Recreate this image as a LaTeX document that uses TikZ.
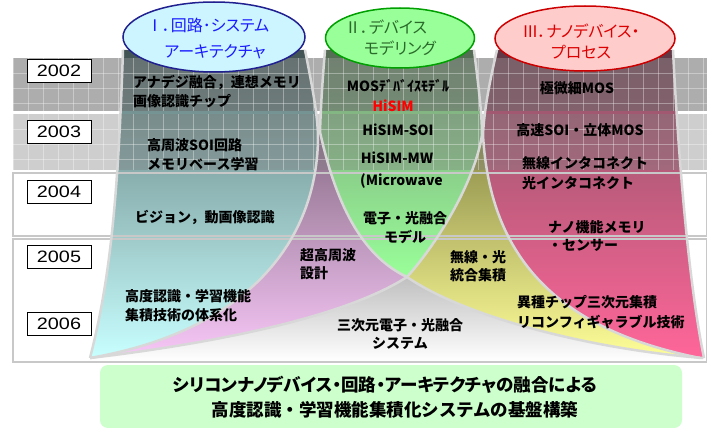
\documentclass[tikz,border=0pt]{standalone}
\usepackage{fontspec}
\usepackage{graphicx}
\newfontfamily\jp{Noto Sans CJK JP}[RawFeature=+palt]
\newfontfamily\jpn{Noto Sans CJK JP}
\newfontfamily\yearfont{Liberation Sans}
\definecolor{edgegray}{HTML}{D8D8D8}
\definecolor{tealtop}{HTML}{607878}
\definecolor{tealmid}{HTML}{9CC4C4}
\definecolor{tealbot}{HTML}{C8FFFF}
\definecolor{purtop}{HTML}{866A84}
\definecolor{purbot}{HTML}{F8C8F8}
\definecolor{greentop}{HTML}{7A9A7A}
\definecolor{greenbot}{HTML}{99FF99}
\definecolor{yeltop}{HTML}{8A8A48}
\definecolor{yelbot}{HTML}{FFFF99}
\definecolor{pinktop}{HTML}{8A5466}
\definecolor{pinkmid}{HTML}{D04A7A}
\definecolor{pinkbot}{HTML}{FF6699}
\definecolor{graytop}{HTML}{C0C0C0}
\definecolor{ellAfill}{HTML}{CCF5FF}
\definecolor{ellAdraw}{HTML}{202090}
\definecolor{ellAtext}{HTML}{1A1AFF}
\definecolor{ellBfill}{HTML}{99FF99}
\definecolor{ellBdraw}{HTML}{00A000}
\definecolor{ellBtext}{HTML}{2A6A2A}
\definecolor{ellCfill}{HTML}{FFCCCC}
\definecolor{ellCdraw}{HTML}{CC0000}
\definecolor{ellCtext}{HTML}{DD0000}
\definecolor{boxgreen}{HTML}{CCFFCC}
\definecolor{bandline}{HTML}{C8C8C8}
\definecolor{hisimred}{HTML}{FF0000}
\definecolor{bandA}{HTML}{6A6A6A}
\definecolor{bandB}{HTML}{808080}
\tikzset{
  lbl/.style={font={\jpn\bfseries\fontsize{14pt}{17pt}\selectfont}, inner sep=0pt, text=black},
  lblw/.style={lbl, anchor=west},
  elltext/.style={font={\jp\fontsize{16pt}{19pt}\selectfont}, inner sep=0pt},
  goaltext/.style={font={\jp\bfseries\fontsize{17.5pt}{20pt}\selectfont}, inner sep=0pt, text=black},
  goaltextn/.style={font={\jpn\bfseries\fontsize{17.5pt}{20pt}\selectfont}, inner sep=0pt, text=black},
  yearbox/.style={draw=black, line width=0.8pt, fill=white, minimum width=64pt, minimum height=23pt, inner sep=0pt,
    font={\yearfont\fontsize{16.5pt}{18pt}\selectfont}},
  edgeline/.style={draw=edgegray, line width=2.5pt},
  gridline/.style={draw=white, draw opacity=0.35, line width=0.7pt},
  bandframe/.style={draw=bandline, line width=1.5pt},
  ellipsebox/.style={ellipse, line width=1.5pt, inner sep=0pt},
  topstrip/.style={fill=black, fill opacity=0.3}
}
\usetikzlibrary{shapes.geometric}
\begin{document}
\begin{tikzpicture}[x=1pt,y=-1pt]
\useasboundingbox (0,0) rectangle (707,428);
\fill[white] (0,0) rectangle (707,428);

% ---- column fills ----
% I (teal)
\shade[top color=tealtop, middle color=tealmid, bottom color=tealbot]
  (123,50) -- (305,50) .. controls (315,100) and (318,120) .. (318,140)
  .. controls (316,240) and (250,330) .. (90,358)
  .. controls (110,280) and (118,200) .. (123,50) -- cycle;
% purple overlap I/II
\shade[top color=purtop, bottom color=purbot]
  (319,128) -- (318,140) .. controls (316,240) and (250,330) .. (90,358)
  .. controls (200,345) and (340,320) .. (407,277)
  .. controls (360,255) and (335,200) .. (320,132) -- cycle;
% II (green)
\shade[top color=greentop, bottom color=greenbot]
  (325,50) -- (474,50) .. controls (479,90) and (482,115) .. (482,135)
  .. controls (475,180) and (440,240) .. (407,277)
  .. controls (360,255) and (335,200) .. (320,132)
  .. controls (321,100) and (323,75) .. (325,50) -- cycle;
% yellow overlap II/III
\shade[top color=yeltop, bottom color=yelbot]
  (482,135) .. controls (475,180) and (440,240) .. (407,277)
  .. controls (470,320) and (600,350) .. (703,358)
  -- (700,358) .. controls (560,330) and (490,260) .. (483,135) -- cycle;
% III (pink)
\shade[top color=pinktop, middle color=pinkmid, bottom color=pinkbot]
  (497,50) -- (673,50) .. controls (678,150) and (688,280) .. (704,358)
  -- (700,358) .. controls (560,330) and (490,260) .. (483,135)
  .. controls (484,110) and (490,80) .. (497,50) -- cycle;
% gray bottom
\shade[top color=graytop, bottom color=white]
  (90,358) .. controls (200,345) and (340,320) .. (407,277)
  .. controls (470,320) and (600,350) .. (703,358)
  -- (703,361) -- (90,361) -- cycle;

% dark tops of the three columns
\fill[topstrip] (123,50) rectangle (306,58);
\fill[topstrip] (325,50) rectangle (475,58);
\fill[topstrip] (496,50) rectangle (673.5,58);

% ---- bands 2002 / 2003 ----
\fill[bandA, fill opacity=0.55] (13,58) rectangle (707,111);
\fill[bandB, fill opacity=0.38] (13,114) rectangle (707,170);
\foreach \x in {13,28,...,703} {
  \draw[gridline] (\x,58) -- (\x,111);
  \draw[gridline] (\x,114) -- (\x,170);
}
\foreach \y in {73,88,103} \draw[gridline] (13,\y) -- (707,\y);
\foreach \y in {129,144,159} \draw[gridline] (13,\y) -- (707,\y);
\draw[bandframe] (13,173) rectangle (707,236);
\draw[bandframe] (13,239) rectangle (707,362);

% ---- column edges ----
\draw[edgeline] (123,50) .. controls (118,200) and (110,280) .. (90,358);
\draw[edgeline] (305,50) .. controls (315,100) and (318,120) .. (318,140)
  .. controls (316,240) and (250,330) .. (90,358);
\draw[edgeline] (325,50) .. controls (323,75) and (321,100) .. (320,132)
  .. controls (335,200) and (360,255) .. (407,277);
\draw[edgeline] (474,50) .. controls (479,90) and (482,115) .. (482,135)
  .. controls (475,180) and (440,240) .. (407,277);
\draw[edgeline] (497,50) .. controls (490,80) and (484,110) .. (483,135)
  .. controls (490,260) and (560,330) .. (700,358);
\draw[edgeline] (673,50) .. controls (678,150) and (688,280) .. (704,358);
\draw[edgeline] (90,358) .. controls (200,345) and (340,320) .. (407,277);
\draw[edgeline] (407,277) .. controls (470,320) and (600,350) .. (703,358);

% ---- ellipses ----
\node[ellipsebox, draw=ellAdraw, fill=ellAfill, minimum width=182pt, minimum height=70pt] (ellA) at (214,37) {};
\node[ellipsebox, draw=ellBdraw, fill=ellBfill, minimum width=149pt, minimum height=60pt] (ellB) at (400,38) {};
\node[ellipsebox, draw=ellCdraw, fill=ellCfill, minimum width=180pt, minimum height=65pt] (ellC) at (585,38.5) {};
\node[elltext, text=ellAtext] (ellA1) at (208,25) {Ⅰ．回路･システム};
\node[elltext, text=ellAtext] (ellA2) at (215,52) {アーキテクチャ};
\node[elltext, text=ellBtext] (ellB1) at (386,27) {Ⅱ．デバイス};
\node[elltext, text=ellBtext] (ellB2) at (400,48) {モデリング};
\node[elltext, text=ellCtext] (ellC1) at (581,31) {Ⅲ．ナノデバイス・};
\node[elltext, text=ellCtext] (ellC2) at (581,52) {プロセス};

% ---- years ----
\node[yearbox] (y2002) at (59,71) {\scalebox{1.2}[1]{2002}};
\node[yearbox] (y2003) at (59,132) {\scalebox{1.2}[1]{2003}};
\node[yearbox] (y2004) at (59,192) {\scalebox{1.2}[1]{2004}};
\node[yearbox] (y2005) at (59,257) {\scalebox{1.2}[1]{2005}};
\node[yearbox] (y2006) at (59,324) {\scalebox{1.2}[1]{2006}};

% ---- column I texts ----
\node[lblw] (tA1) at (133,82) {アナデジ融合，連想メモリ};
\node[lblw] (tA2) at (133,101) {画像認識チップ};
\node[lblw] (tA3) at (147,145) {高周波SOI回路};
\node[lblw] (tA4) at (147,164) {メモリベース学習};
\node[lblw] (tA5) at (135,217) {ビジョン，動画像認識};
\node[lblw] (tA6) at (125,296) {高度認識・学習機能};
\node[lblw] (tA7) at (125,315) {集積技術の体系化};

% ---- column II texts ----
\node[lbl] (tB1) at (398,86) {MOSﾃﾞﾊﾞｲｽﾓﾃﾞﾙ};
\node[lbl, text=hisimred] (tB2) at (393,106) {HiSIM};
\node[lbl] (tB3) at (398,130) {HiSIM-SOI};
\node[lbl] (tB4) at (397,158) {HiSIM-MW};
\node[lblw] (tB5) at (360,181) {(Microwave};
\node[lbl] (tB6) at (405,218) {電子・光融合};
\node[lbl] (tB7) at (405,237) {モデル};

% ---- overlaps ----
\node[lblw] (tP1) at (300,255) {超高周波};
\node[lblw] (tP2) at (300,273) {設計};
\node[lbl] (tY1) at (478,257) {無線・光};
\node[lbl] (tY2) at (478,275) {統合集積};
\node[lbl] (tG1) at (400,325) {三次元電子・光融合};
\node[lbl] (tG2) at (400,343) {システム};

% ---- column III texts ----
\node[lbl] (tC1) at (577,88) {極微細MOS};
\node[lbl] (tC2) at (580,130) {高速SOI・立体MOS};
\node[lblw] (tC3) at (522,163) {無線インタコネクト};
\node[lblw] (tC4) at (522,183) {光インタコネクト};
\node[lblw] (tC5) at (548,227) {ナノ機能メモリ};
\node[lblw] (tC6) at (548,245) {・センサー};
\node[lblw] (tC7) at (517,302) {異種チップ三次元集積};
\node[lblw] (tC8) at (517,322) {リコンフィギャラブル技術};

% ---- goal box ----
\node[fill=boxgreen, rounded corners=8pt, minimum width=582pt, minimum height=63pt, inner sep=0pt] (goal) at (391,396.5) {};
\node[goaltext] (goal1) at (385,385) {シリコンナノデバイス・回路・アーキテクチャの融合による};
\node[goaltextn] (goal2) at (395,410) {高度認識・学習機能集積化システムの基盤構築};
\end{tikzpicture}
\end{document}
